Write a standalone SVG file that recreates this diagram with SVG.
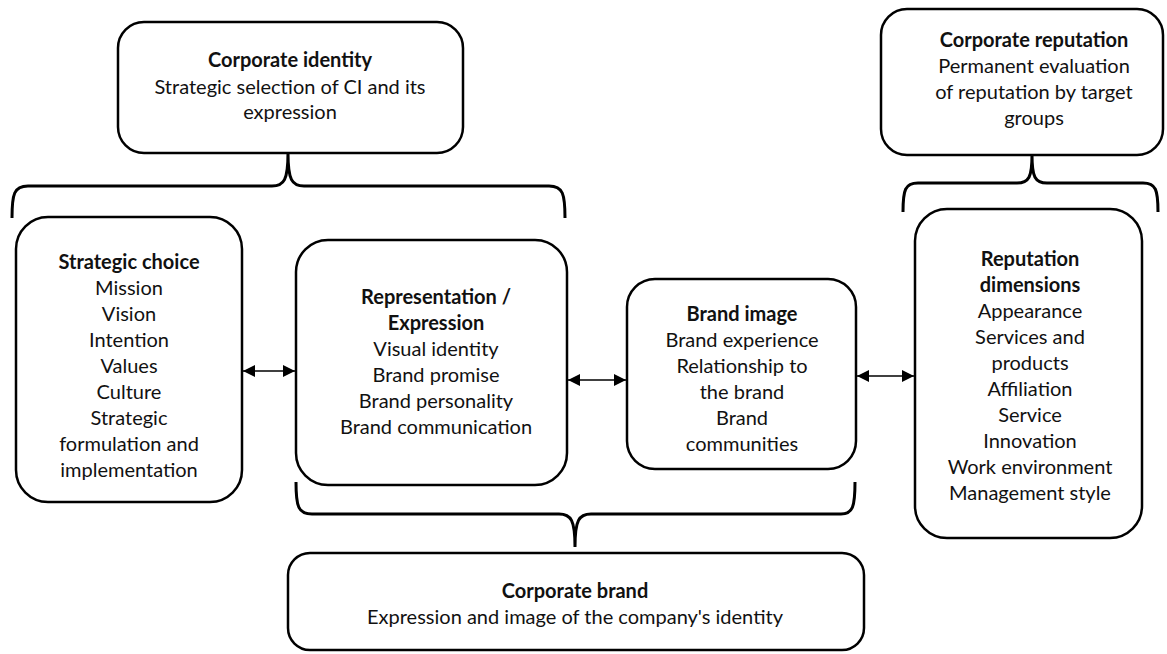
<svg xmlns="http://www.w3.org/2000/svg" width="1167" height="654" viewBox="0 0 1167 654">
<defs>
<style>
.box{fill:#fff;stroke:#000;stroke-width:2.5}
.brace{fill:none;stroke:#000;stroke-width:3;stroke-linejoin:round}
.arr{stroke:#000;stroke-width:1.6;fill:none}
text{font-family:Lato,"Open Sans","Liberation Sans",sans-serif;font-size:20px;fill:#111;text-anchor:middle}
.t{font-weight:bold}
</style>
<marker id="ah" viewBox="0 0 12 12" refX="12" refY="6" markerWidth="12" markerHeight="12" markerUnits="userSpaceOnUse" orient="auto-start-reverse">
<path d="M0,0 L12,6 L0,12 Z" fill="#000"/>
</marker>
</defs>
<rect width="1167" height="654" fill="#fff"/>

<g id="corporate-identity">
<rect class="box" x="118" y="22" width="345" height="131" rx="26"/>
<text x="290" y="67" class="t">Corporate identity</text>
<text x="290" y="94">Strategic selection of CI and its</text>
<text x="290" y="119">expression</text>
</g>

<g id="corporate-reputation">
<rect class="box" x="881" y="9" width="282" height="146" rx="26"/>
<text x="1034" y="47" class="t">Corporate reputation</text>
<text x="1034" y="73">Permanent evaluation</text>
<text x="1034" y="99">of reputation by target</text>
<text x="1034" y="125">groups</text>
</g>

<g id="strategic-choice">
<rect class="box" x="16" y="217" width="226" height="285" rx="32"/>
<text x="129" y="269" class="t">Strategic choice</text>
<text x="129" y="295">Mission</text>
<text x="129" y="321">Vision</text>
<text x="129" y="347">Intention</text>
<text x="129" y="373">Values</text>
<text x="129" y="399">Culture</text>
<text x="129" y="425">Strategic</text>
<text x="129" y="451">formulation and</text>
<text x="129" y="477">implementation</text>
</g>

<g id="representation">
<rect class="box" x="296" y="240" width="271" height="245" rx="32"/>
<text x="436" y="304" class="t">Representation /</text>
<text x="436" y="330" class="t">Expression</text>
<text x="436" y="356">Visual identity</text>
<text x="436" y="382">Brand promise</text>
<text x="436" y="408">Brand personality</text>
<text x="436" y="434">Brand communication</text>
</g>

<g id="brand-image">
<rect class="box" x="627" y="279" width="229" height="190" rx="28"/>
<text x="742" y="321" class="t">Brand image</text>
<text x="742" y="347">Brand experience</text>
<text x="742" y="373">Relationship to</text>
<text x="742" y="399">the brand</text>
<text x="742" y="425">Brand</text>
<text x="742" y="451">communities</text>
</g>

<g id="reputation-dimensions">
<rect class="box" x="915" y="209" width="227" height="329" rx="32"/>
<text x="1030" y="266" class="t">Reputation</text>
<text x="1030" y="292" class="t">dimensions</text>
<text x="1030" y="318">Appearance</text>
<text x="1030" y="344">Services and</text>
<text x="1030" y="370">products</text>
<text x="1030" y="396">Affiliation</text>
<text x="1030" y="422">Service</text>
<text x="1030" y="448">Innovation</text>
<text x="1030" y="474">Work environment</text>
<text x="1030" y="500">Management style</text>
</g>

<g id="corporate-brand">
<rect class="box" x="288" y="553" width="576" height="97" rx="22"/>
<text x="575" y="598" class="t">Corporate brand</text>
<text x="575" y="624">Expression and image of the company's identity</text>
</g>

<g id="connectors">
<path class="brace" d="M12,218 C12,194 14,186 28,186 L272,186 C284,186 288,180 288,153 M288,153 C288,180 292,186 304,186 L549,186 C563,186 565,194 565,218"/>
<path class="brace" d="M903,212 C903,190 905,183 918,183 L1017,183 C1029,183 1032,177 1032,155 M1032,155 C1032,177 1035,183 1047,183 L1143,183 C1156,183 1158,190 1158,212"/>
<path class="brace" d="M296,482 C296,506 298,514 312,514 L559,514 C571,514 575,520 575,547 M575,547 C575,520 579,514 591,514 L841,514 C853,514 855,506 855,482"/>
<line class="arr" x1="243" y1="371" x2="295" y2="371" marker-start="url(#ah)" marker-end="url(#ah)"/>
<line class="arr" x1="568" y1="380" x2="626" y2="380" marker-start="url(#ah)" marker-end="url(#ah)"/>
<line class="arr" x1="857" y1="376" x2="914" y2="376" marker-start="url(#ah)" marker-end="url(#ah)"/>
</g>
</svg>
